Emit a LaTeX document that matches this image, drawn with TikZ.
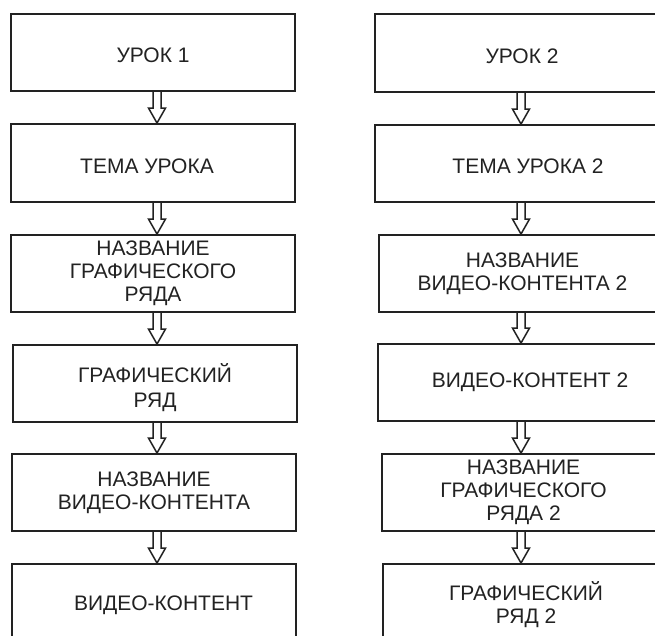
\documentclass[tikz,border=0pt]{standalone}
\usepackage{fontspec}
\setmainfont{Liberation Sans}
\usetikzlibrary{calc}
\definecolor{ink}{HTML}{222222}
\tikzset{
  box/.style={draw=ink, line width=1.9pt, rectangle, inner sep=0pt, align=center,
    font=\fontsize{21}{23}\selectfont, text=ink},
  hollow/.style={draw=ink, line width=1.5pt, line join=miter},
}
\newcommand{\harrow}[3]{%
  \draw[hollow] ($(#1.south -| #3)+(-4,0)$) -- ($(#2.north -| #3)+(-4,-15)$)
    -- ($(#2.north -| #3)+(-8.5,-15)$) -- (#2.north -| #3)
    -- ($(#2.north -| #3)+(8.5,-15)$) -- ($(#2.north -| #3)+(4,-15)$)
    -- ($(#1.south -| #3)+(4,0)$);}
\newcommand{\up}[1]{\rule{0pt}{#1}}
\begin{document}
\begin{tikzpicture}[x=1pt,y=-1pt]
\useasboundingbox (0,0) rectangle (655,635);
\clip (0,0) rectangle (655,635);
\fill[white] (0,0) rectangle (655,635);
% left column
\node[box, minimum width=284pt, minimum height=77pt] (L1) at (153,52.5) {\up{21pt}УРОК 1};
\node[box, minimum width=284pt, minimum height=78pt] (L2) at (153,163) {\up{21pt}\hspace*{-12pt}ТЕМА УРОКА};
\node[box, minimum width=284pt, minimum height=77pt] (L3) at (153,273.5) {НАЗВАНИЕ\\ГРАФИЧЕСКОГО\\РЯДА};
\node[box, minimum width=284pt, minimum height=77pt] (L4) at (155,383.5) {\up{27pt}ГРАФИЧЕСКИЙ\\[2.5pt]РЯД};
\node[box, minimum width=284pt, minimum height=77pt] (L5) at (154,492.5) {НАЗВАНИЕ\\ВИДЕО-КОНТЕНТА};
\node[box, minimum width=284pt, minimum height=82pt] (L6) at (154,605) {\hspace*{19pt}ВИДЕО-КОНТЕНТ};
% right column
\node[box, minimum width=294pt, minimum height=78pt] (R1) at (522,53) {\up{21pt}УРОК 2};
\node[box, minimum width=306pt, minimum height=77pt] (R2) at (528,163.5) {\up{21pt}ТЕМА УРОКА 2};
\node[box, minimum width=287pt, minimum height=77pt] (R3) at (522.5,273.5) {НАЗВАНИЕ\\ВИДЕО-КОНТЕНТА 2};
\node[box, minimum width=304pt, minimum height=77pt] (R4) at (530,382.5) {ВИДЕО-КОНТЕНТ 2};
\node[box, minimum width=283pt, minimum height=77pt] (R5) at (523.5,492.5) {НАЗВАНИЕ\\ГРАФИЧЕСКОГО\\РЯДА 2};
\node[box, minimum width=286pt, minimum height=82pt] (R6) at (526,605) {ГРАФИЧЕСКИЙ\\РЯД 2};
% arrow axes
\coordinate (lx) at (157,0);
\coordinate (rx) at (521,0);
\harrow{L1}{L2}{lx}
\harrow{L2}{L3}{lx}
\harrow{L3}{L4}{lx}
\harrow{L4}{L5}{lx}
\harrow{L5}{L6}{lx}
\harrow{R1}{R2}{rx}
\harrow{R2}{R3}{rx}
\harrow{R3}{R4}{rx}
\harrow{R4}{R5}{rx}
\harrow{R5}{R6}{rx}
\end{tikzpicture}
\end{document}
